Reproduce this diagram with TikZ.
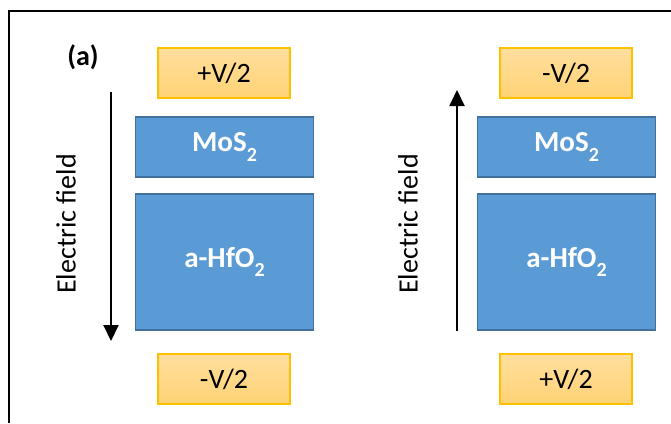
\documentclass[tikz,border=0pt]{standalone}
\usepackage{fontspec}
\setmainfont{Carlito}
\usetikzlibrary{arrows.meta}
\definecolor{electop}{HTML}{FFDF9E}
\definecolor{elecbot}{HTML}{FFD275}
\definecolor{elecline}{HTML}{FFC000}
\definecolor{layerfill}{HTML}{5B9BD5}
\definecolor{layerline}{HTML}{41719C}
\newcommand{\subtwo}{\raisebox{-0.32em}{\fontsize{20}{20}\selectfont 2}}
\tikzset{
  electrode/.style={draw=elecline, line width=1.3pt, top color=electop, bottom color=elecbot,
    minimum width=132pt, minimum height=50pt, inner sep=0pt,
    font=\fontsize{28}{28}\selectfont, text=black},
  layer/.style={draw=layerline, line width=1.8pt, fill=layerfill, minimum width=178pt,
    inner sep=0pt, font=\fontsize{29}{29}\selectfont\bfseries, text=white},
  fieldarrow/.style={line width=2pt, -{Triangle[width=15pt,length=16pt]}},
  fieldlabel/.style={rotate=90, font=\fontsize{28}{28}\selectfont},
}
\begin{document}
\begin{tikzpicture}[x=1pt,y=-1pt]
  \useasboundingbox (0,0) rectangle (671,423);
  % frame
  \draw[line width=2.5pt] (9,423) -- (9,11) -- (671,11);
  \node[font=\fontsize{28}{28}\selectfont\bfseries] (lbl) at (83,57) {(a)};

  % left stack: field pointing down
  \node[electrode] (topL) at (224,73) {+V/2};
  \node[layer, minimum height=60pt] (mosL) at (224.5,147) {MoS\subtwo};
  \node[layer, minimum height=136pt] (hfoL) at (224.5,262) {a-HfO\subtwo};
  \node[electrode] (botL) at (224,379) {-V/2};
  \coordinate (aLs) at (111,92);
  \coordinate (aLe) at (111,341);
  \draw[fieldarrow] (aLs) -- (aLe);
  \node[fieldlabel] (fL) at (66,224) {Electric field};

  % right stack: field pointing up
  \node[electrode] (topR) at (566,73) {-V/2};
  \node[layer, minimum height=60pt] (mosR) at (566.5,147) {MoS\subtwo};
  \node[layer, minimum height=136pt] (hfoR) at (566.5,262) {a-HfO\subtwo};
  \node[electrode] (botR) at (566,379) {+V/2};
  \coordinate (aRs) at (457,331);
  \coordinate (aRe) at (457,90);
  \draw[fieldarrow] (aRs) -- (aRe);
  \node[fieldlabel] (fR) at (408,224) {Electric field};
\end{tikzpicture}
\end{document}
